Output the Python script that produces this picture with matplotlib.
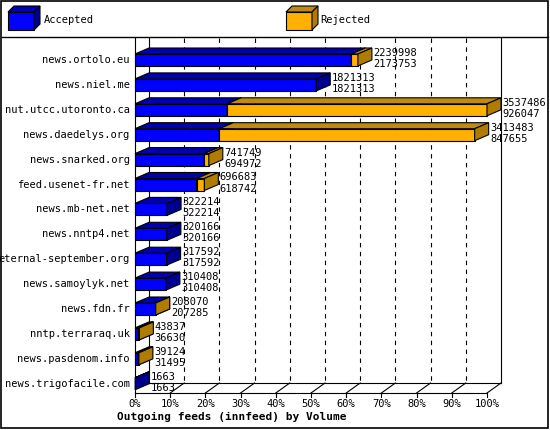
import matplotlib
matplotlib.use("Agg")
import matplotlib.pyplot as plt
from matplotlib.patches import Polygon, Rectangle

hosts = ["news.ortolo.eu", "news.niel.me", "nut.utcc.utoronto.ca", "news.daedelys.org",
         "news.snarked.org", "feed.usenet-fr.net", "news.mb-net.net", "news.nntp4.net",
         "eternal-september.org", "news.samoylyk.net", "news.fdn.fr", "nntp.terraraq.uk",
         "news.pasdenom.info", "news.trigofacile.com"]
offered = [2239998, 1821313, 3537486, 3413483, 741749, 696683, 322214, 320166,
           317592, 310408, 208070, 43837, 39124, 1663]
accepted = [2173753, 1821313, 926047, 847655, 694972, 618742, 322214, 320166,
            317592, 310408, 207285, 36630, 31495, 1663]
ticks = [0, 10, 20, 30, 40, 50, 60, 70, 80, 90, 100]

FONT = "DejaVu Sans Mono"
fig = plt.figure(figsize=(5.5, 4.3), dpi=100)
ax = fig.add_axes([0, 0, 1, 1])
# x in percent, y in pixel rows
PX = 3.52
ax.set_xlim(-135 / PX, (550 - 135) / PX)
ax.set_ylim(430, 0)
ax.axis("off")

DX = 14 / PX   # depth in percent
DY = 6         # depth in px
x0, y0 = 0, 393
mx = max(offered)

BLUE = ("#0000ff", "#0000b0", "#000090")
ORNG = ("#ffb000", "#c08a10", "#b07c00")

def box(xa, xb, yc, cols, h=12):
    top, bot = yc - h / 2, yc + h / 2
    ax.add_patch(Polygon([(xa, top), (xb, top), (xb, bot), (xa, bot)], closed=True,
                         fc=cols[0], ec="black", lw=0.8, zorder=3))
    ax.add_patch(Polygon([(xa, top), (xa + DX, top - DY), (xb + DX, top - DY), (xb, top)],
                         closed=True, fc=cols[1], ec="black", lw=0.8, zorder=3))
    ax.add_patch(Polygon([(xb, top), (xb + DX, top - DY), (xb + DX, bot - DY), (xb, bot)],
                         closed=True, fc=cols[2], ec="black", lw=0.8, zorder=3))

# back wall/grid
for t in ticks[1:-1]:
    ax.plot([t + DX, t + DX], [38, y0 - 10], ls=(0, (4, 4)), color="black", lw=0.8, zorder=1)
    ax.plot([t, t + DX], [y0, y0 - 10], color="black", lw=0.8, zorder=1)
ax.plot([100 + DX, 100 + DX], [38, y0 - 10], color="black", lw=0.8, zorder=1)
ax.plot([DX, DX], [38, y0 - 10], color="black", lw=0.8, zorder=1)
ax.plot([DX, 100 + DX], [y0 - 10, y0 - 10], color="black", lw=0.8, zorder=1)
ax.plot([100, 100 + DX], [y0, y0 - 10], color="black", lw=0.8, zorder=1)
ax.plot([0, 0], [38, y0], color="black", lw=0.8, zorder=4)
ax.plot([0, 100], [y0, y0], color="black", lw=0.8, zorder=4)
for t in ticks:
    ax.plot([t, t], [y0, y0 + 4], color="black", lw=0.8)
    ax.text(t, y0 + 11, f"{t}%", ha="center", va="center", fontsize=7.5, family=FONT)
ax.text(-5, 417, "Outgoing feeds (innfeed) by Volume", ha="left", va="center",
        fontsize=8, family=FONT, weight="bold")

for i, (h, o, a) in enumerate(zip(hosts, offered, accepted)):
    yc = 60 + 24.9 * i
    pa, po = a / mx * 100, o / mx * 100
    box(0, pa, yc, BLUE)
    if po > pa:
        box(pa, po, yc, ORNG)
    ax.text(-1.5, yc, h, ha="right", va="center", fontsize=7.5, family=FONT)
    ax.text(po + DX + 0.4, yc - 7, str(o), ha="left", va="center", fontsize=7.5, family=FONT, zorder=5)
    ax.text(po + DX + 0.4, yc + 4, str(a), ha="left", va="center", fontsize=7.5, family=FONT, zorder=5)

# legend
def legsq(xa, cols):
    w = 26 / PX
    d = 6 / PX
    ax.add_patch(Polygon([(xa, 12), (xa + w, 12), (xa + w, 30), (xa, 30)], fc=cols[0], ec="black", lw=0.8))
    ax.add_patch(Polygon([(xa, 12), (xa + d, 6), (xa + w + d, 6), (xa + w, 12)], fc=cols[1], ec="black", lw=0.8))
    ax.add_patch(Polygon([(xa + w, 12), (xa + w + d, 6), (xa + w + d, 24), (xa + w, 30)], fc=cols[2], ec="black", lw=0.8))
legsq((8 - 135) / PX, BLUE)
ax.text((44 - 135) / PX, 20, "Accepted", va="center", fontsize=7.5, family=FONT)
legsq((286 - 135) / PX, ORNG)
ax.text((320 - 135) / PX, 20, "Rejected", va="center", fontsize=7.5, family=FONT)
ax.plot([(2 - 135) / PX, (548 - 135) / PX], [37, 37], color="black", lw=1)
ax.add_patch(Rectangle(((1 - 135) / PX, 1), 547 / PX, 427, fill=False, ec="black", lw=1.2))

fig.savefig("out.png", dpi=100)
